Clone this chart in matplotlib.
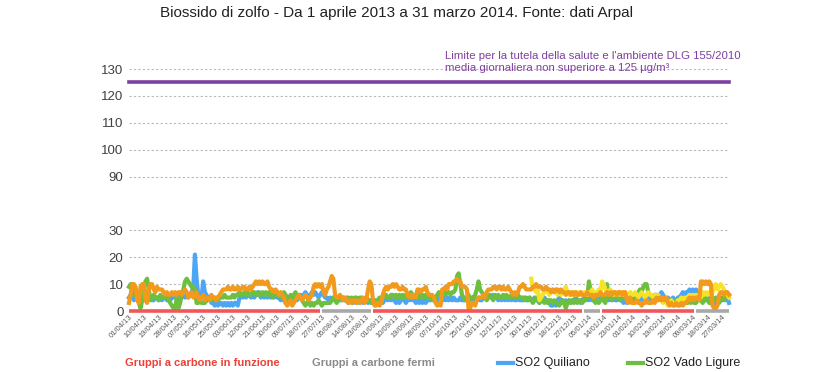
import matplotlib
matplotlib.use('Agg')
import matplotlib.pyplot as plt
import matplotlib.dates as mdates
from matplotlib.lines import Line2D
import numpy as np
import pandas as pd

plt.rcParams['font.family'] = ['Liberation Sans', 'DejaVu Sans']

# giorni dal 01/04/2013 al 31/03/2014
giorni = pd.date_range('2013-04-01', '2014-03-31', freq='D')

# SO2 Quiliano (blu), valori giornalieri, un elenco per mese
quiliano = (
    [5, 6, 5, 4, 5, 6, 4, 5, 6, 5, 4, 5, 6, 5, 4, 4, 5, 5, 4, 5, 4, 5, 5, 4, 5, 4, 5, 5, 6, 5]
    + [5, 6, 5, 6, 5, 6, 5, 6, 7, 9, 21, 12, 6, 6, 5, 11, 7, 6, 5, 5, 3, 3, 2, 3, 2, 3, 3, 2, 3, 2, 3]
    + [2, 3, 2, 3, 3, 2, 5, 6, 5, 6, 5, 6, 6, 5, 6, 5, 6, 7, 6, 5, 6, 5, 6, 5, 6, 5, 6, 5, 6, 5]
    + [5, 4, 5, 4, 3, 4, 3, 4, 5, 4, 5, 4, 5, 6, 5, 6, 7, 6, 5, 6, 7, 6, 7, 6, 5, 6, 7, 6, 5, 5, 4]
    + [5, 4, 5, 4, 4, 5, 4, 4, 5, 4, 4, 3, 4, 4, 3, 4, 3, 4, 3, 4, 3, 4, 4, 3, 4, 3, 4, 3, 4, 3, 4]
    + [4, 3, 4, 5, 4, 5, 4, 5, 4, 3, 4, 3, 4, 5, 4, 3, 4, 5, 4, 5, 4, 3, 4, 3, 4, 3, 4, 3, 4, 4]
    + [4, 5, 4, 5, 4, 5, 4, 4, 5, 4, 5, 4, 5, 4, 5, 4, 4, 4, 5, 4, 4, 4, 5, 4, 5, 4, 5, 4, 4, 5, 4]
    + [4, 5, 6, 5, 5, 6, 5, 6, 5, 5, 4, 5, 4, 5, 4, 5, 4, 5, 4, 5, 4, 4, 5, 4, 4, 4, 5, 4, 4, 5]
    + [4, 4, 5, 4, 4, 3, 4, 4, 5, 4, 4, 3, 2, 2, 3, 2, 4, 5, 4, 4, 3, 4, 3, 4, 3, 4, 4, 5, 4, 4, 3]
    + [4, 5, 4, 5, 4, 5, 4, 4, 5, 4, 4, 5, 4, 5, 4, 5, 4, 5, 4, 5, 4, 4, 5, 4, 4, 3, 4, 3, 4, 4, 5]
    + [4, 5, 4, 5, 4, 5, 4, 5, 4, 5, 4, 5, 5, 6, 6, 5, 6, 7, 6, 5, 4, 5, 4, 4, 5, 4, 4, 5]
    + [5, 6, 7, 6, 7, 7, 8, 7, 8, 7, 8, 7, 6, 7, 6, 5, 4, 5, 6, 5, 4, 3, 2, 3, 4, 5, 4, 5, 4, 5, 3]
)

# SO2 Vado Ligure (verde)
vado = (
    [9, 10, 7, 6, 8, 5, 3, 1, 4, 9, 11, 12, 8, 4, 5, 6, 5, 5, 4, 6, 5, 5, 6, 5, 4, 3, 2, 1, 1, 5]
    + [1, 3, 6, 8, 11, 12, 11, 10, 9, 9, 8, 3, 3, 4, 3, 3, 3, 4, 4, 5, 4, 5, 4, 5, 4, 5, 5, 5, 6, 5, 5]
    + [5, 5, 6, 5, 6, 6, 7, 6, 6, 7, 6, 7, 6, 6, 7, 7, 6, 6, 7, 6, 7, 6, 7, 6, 7, 6, 5, 6, 7, 6]
    + [6, 5, 6, 7, 6, 5, 4, 6, 5, 6, 7, 5, 6, 5, 4, 3, 2, 3, 4, 2, 3, 2, 3, 3, 4, 3, 2, 3, 3, 3, 3]
    + [3, 4, 5, 4, 3, 4, 5, 4, 5, 4, 5, 5, 4, 5, 4, 5, 5, 4, 5, 5, 4, 4, 5, 4, 4, 3, 4, 4, 3, 4, 5]
    + [5, 5, 6, 6, 5, 5, 6, 6, 5, 6, 5, 6, 5, 6, 5, 6, 5, 6, 7, 6, 5, 6, 5, 6, 5, 6, 5, 6, 5, 5]
    + [5, 4, 5, 5, 6, 7, 6, 7, 7, 6, 7, 7, 6, 7, 7, 8, 13, 14, 10, 6, 5, 4, 5, 6, 4, 5, 5, 6, 8, 11, 8]
    + [7, 6, 5, 4, 5, 6, 5, 4, 6, 5, 6, 5, 5, 6, 5, 6, 5, 5, 6, 5, 5, 5, 6, 5, 5, 5, 4, 5, 4, 5]
    + [4, 3, 4, 5, 4, 3, 4, 4, 3, 4, 3, 4, 4, 3, 4, 3, 3, 2, 3, 4, 3, 1, 3, 4, 3, 4, 3, 4, 3, 4, 4]
    + [3, 4, 4, 5, 11, 8, 5, 4, 3, 4, 3, 4, 5, 4, 3, 10, 5, 5, 4, 6, 5, 6, 5, 4, 6, 5, 6, 5, 4, 6, 5]
    + [6, 5, 6, 7, 8, 7, 9, 10, 10, 7, 6, 5, 5, 6, 5, 4, 5, 4, 5, 4, 4, 3, 4, 3, 3, 3, 4, 3]
    + [3, 3, 4, 3, 3, 3, 4, 3, 4, 3, 3, 4, 5, 4, 3, 4, 5, 4, 3, 3, 4, 4, 5, 4, 3, 4, 5, 4, 6, 5, 6]
)

# terza centralina (arancione)
arancio = (
    [3, 6, 10, 10, 9, 4, 3, 9, 10, 10, 4, 3, 8, 10, 10, 8, 7, 9, 8, 8, 8, 7, 6, 7, 6, 6, 7, 6, 7, 6]
    + [7, 7, 6, 7, 8, 7, 5, 6, 7, 5, 6, 7, 5, 4, 5, 6, 4, 5, 5, 4, 6, 5, 5, 4, 5, 6, 7, 8, 8, 8, 9]
    + [8, 8, 9, 8, 8, 9, 8, 8, 9, 9, 8, 8, 9, 8, 9, 10, 11, 10, 11, 10, 11, 10, 10, 11, 9, 8, 8, 7, 8, 7]
    + [6, 7, 6, 5, 3, 2, 3, 4, 2, 3, 4, 5, 6, 5, 4, 5, 6, 5, 4, 5, 6, 9, 10, 9, 10, 9, 10, 7, 6, 8, 9]
    + [11, 13, 12, 6, 5, 5, 6, 5, 4, 5, 4, 3, 4, 3, 4, 4, 3, 4, 3, 4, 5, 3, 4, 8, 11, 10, 4, 2, 2, 3, 2]
    + [3, 6, 8, 9, 8, 9, 9, 10, 9, 10, 9, 8, 8, 9, 8, 8, 6, 5, 6, 5, 6, 5, 8, 8, 7, 8, 8, 9, 7, 6]
    + [6, 6, 5, 3, 2, 3, 2, 8, 8, 9, 8, 10, 10, 10, 11, 11, 12, 11, 11, 9, 9, 9, 8, 1, 1, 3, 3, 2, 4, 5, 5]
    + [5, 6, 5, 7, 8, 8, 8, 9, 9, 8, 9, 9, 8, 9, 8, 8, 9, 8, 7, 6, 7, 6, 7, 9, 9, 10, 9, 8, 8, 8]
    + [8, 9, 9, 10, 9, 9, 9, 8, 8, 9, 8, 8, 7, 8, 7, 8, 8, 7, 8, 7, 7, 6, 7, 7, 6, 7, 6, 7, 6, 6, 7]
    + [6, 6, 6, 7, 6, 6, 6, 5, 6, 6, 6, 7, 6, 6, 6, 7, 6, 7, 6, 7, 7, 6, 7, 7, 6, 7, 7, 4, 3, 5, 3]
    + [3, 3, 4, 3, 3, 2, 3, 3, 4, 3, 3, 3, 4, 3, 5, 4, 5, 4, 5, 4, 5, 3, 2, 3, 2, 2, 3, 2]
    + [2, 3, 2, 3, 3, 4, 5, 4, 5, 4, 5, 5, 4, 11, 11, 10, 11, 10, 11, 10, 2, 1, 1, 2, 6, 7, 7, 6, 7, 7, 6]
)

# quarta centralina (giallo), dati solo da dicembre
giallo = (
    [None] * 244
    + [12, 9, 8, 7, 8, 4, 5, 6, 7, 8, 7, 6, 7, 8, 7, 8, 6, 7, 6, 7, 8, 9, 7, 6, 7, 6, 7, 6, 7, 6, 7]
    + [6, 7, 7, 6, 7, 6, 8, 7, 6, 7, 8, 7, 11, 10, 8, 7, 7, 8, 7, 6, 7, 6, 7, 6, 7, 6, 7, 6, 6, 7, 6]
    + [6, 7, 6, 5, 6, 7, 6, 5, 6, 7, 6, 6, 5, 6, 5, 6, 5, 4, 3, 4, 3, 2, 3, 4, 3, 2, 3, 4]
    + [4, 5, 4, 5, 4, 5, 6, 5, 6, 5, 6, 5, 6, 5, 7, 6, 7, 6, 7, 6, 7, 9, 10, 8, 9, 10, 9, 8, 7, 6, 5]
)

# periodi con gruppi a carbone fermi
fermi_inizio = ['2013-07-27', '2014-01-02', '2014-03-11']
fermi_fine = ['2013-08-26', '2014-01-12', '2014-03-31']

limite = 125

ytick_val = [0, 10, 20, 30, 90, 100, 110, 120, 130]


def piega(v):
    # asse spezzato: tra 30 e 90 si salta
    v = np.asarray(v, dtype=float)
    return np.where(v <= 30, v, v - 40)


fermo = np.zeros(len(giorni), dtype=bool)
for a, b in zip(fermi_inizio, fermi_fine):
    fermo |= (giorni >= a) & (giorni <= b)
in_funz = np.where(~fermo, 0.0, np.nan)
off = np.where(fermo, 0.0, np.nan)

fig = plt.figure(figsize=(8.38, 3.72), dpi=100)
ax = fig.add_axes([129 / 838, 1 - 311 / 372, 600 / 838, 242 / 372])

lw = 3.0
ax.plot(giorni, piega(quiliano), color='#4da6f5', lw=lw, clip_on=False)
ax.plot(giorni, piega(vado), color='#6cbf3f', lw=lw, clip_on=False)
ax.plot(giorni, piega(np.array(giallo, dtype=float)), color='#f7e22a', lw=lw, clip_on=False)
ax.plot(giorni, piega(arancio), color='#f29a1c', lw=lw, clip_on=False)
ax.plot(giorni, in_funz, color='#f0565a', lw=2.6, clip_on=False, zorder=5,
        solid_capstyle='butt')
ax.plot(giorni, off, color='#a8a8a8', lw=2.6, clip_on=False, zorder=5,
        solid_capstyle='butt')

ax.axhline(piega([limite])[0], color='#7f3fa0', lw=2.6, clip_on=False)

ax.set_xlim(giorni[0], giorni[-1])
ax.set_ylim(0, 90)
ax.set_yticks(piega(ytick_val))
ax.set_yticklabels([str(v) for v in ytick_val])
ax.set_xticks(giorni[::9])
ax.xaxis.set_major_formatter(mdates.DateFormatter('%d/%m/%y'))
ax.tick_params(axis='y', length=0, pad=4, labelsize=9.5, labelcolor='#404040')
ax.tick_params(axis='x', length=0, pad=2, labelsize=5.5, labelcolor='#5a5a5a')
for lab in ax.get_xticklabels():
    lab.set_rotation(45)
    lab.set_ha('right')
    lab.set_rotation_mode('anchor')
for s in ax.spines.values():
    s.set_visible(False)
ax.grid(axis='y', linestyle=(0, (2, 2)), color='#b8b8b8', lw=0.8)
ax.set_axisbelow(True)

ax.text(0.527, 1.03, "Limite per la tutela della salute e l'ambiente DLG 155/2010\n"
        "media giornaliera non superiore a 125 µg/m³",
        transform=ax.transAxes, color='#7f3fa0', fontsize=8.2, va='center', ha='left',
        linespacing=1.2)

fig.text(396 / 838, 1 - 13 / 372, 'Biossido di zolfo - Da 1 aprile 2013 a 31 marzo 2014. Fonte: dati Arpal',
         ha='center', va='center', fontsize=11, color='#222222')

# legenda in basso
ly = 1 - 363 / 372
fig.text(125 / 838, ly, 'Gruppi a carbone in funzione', color='#ee4035', fontsize=8,
         fontweight='bold', va='center', ha='left')
fig.text(312 / 838, ly, 'Gruppi a carbone fermi', color='#8a8a8a', fontsize=8,
         fontweight='bold', va='center', ha='left')
fig.add_artist(Line2D([498 / 838, 513 / 838], [ly, ly], color='#4da6f5', lw=3,
                      transform=fig.transFigure))
fig.text(515 / 838, ly, 'SO2 Quiliano', color='#222222', fontsize=9, va='center', ha='left')
fig.add_artist(Line2D([628 / 838, 643 / 838], [ly, ly], color='#6cbf3f', lw=3,
                      transform=fig.transFigure))
fig.text(645 / 838, ly, 'SO2 Vado Ligure', color='#222222', fontsize=9, va='center', ha='left')

fig.savefig('out.png', dpi=100)
